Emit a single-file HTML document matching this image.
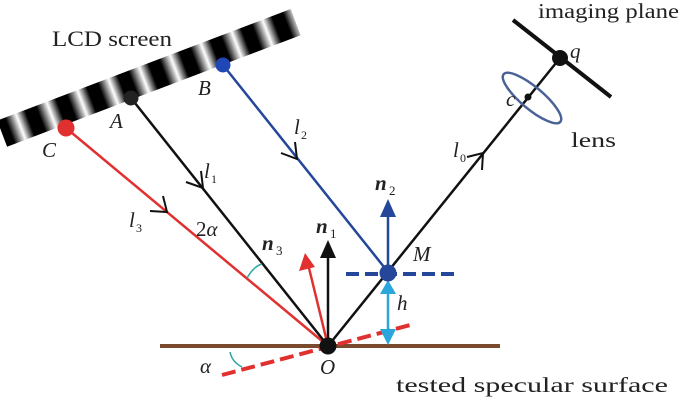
<!DOCTYPE html>
<html><head><meta charset="utf-8"><style>
body{margin:0;background:#fff;}
svg{display:block;}
text{font-family:"Liberation Serif",serif;fill:#222;}
.i{font-style:italic;}
</style></head><body>
<svg width="683" height="404" viewBox="0 0 683 404" xmlns="http://www.w3.org/2000/svg">
<defs>
<linearGradient id="g1" x1="0" y1="0" x2="1" y2="0">
<stop offset="0" stop-color="#000"/><stop offset="0.25" stop-color="#000"/><stop offset="0.6" stop-color="#fff"/><stop offset="0.9" stop-color="#000"/><stop offset="1" stop-color="#000"/>
</linearGradient>
<pattern id="st" patternUnits="userSpaceOnUse" x="0" y="-8" width="33" height="40">
<rect x="0" y="0" width="33" height="40" fill="url(#g1)"/>
</pattern>
</defs>
<g transform="translate(0,128) rotate(-20.8)">
<rect x="0" y="-8" width="314" height="28" fill="url(#st)"/>
</g>
<text x="52" y="46" font-size="22" textLength="120" lengthAdjust="spacingAndGlyphs">LCD screen</text>
<line x1="160" y1="346" x2="500" y2="346" stroke="#7a4a2e" stroke-width="4"/>
<line x1="222" y1="375" x2="414" y2="324" stroke="#e0302f" stroke-width="4" stroke-dasharray="14,6"/>
<line x1="66" y1="128" x2="328" y2="346" stroke="#e0302f" stroke-width="2.5"/>
<line x1="131" y1="98" x2="328" y2="346" stroke="#111" stroke-width="2.5"/>
<line x1="223" y1="65" x2="388" y2="272" stroke="#25479a" stroke-width="2.5"/>
<line x1="328" y1="346" x2="560" y2="58" stroke="#111" stroke-width="2.5"/>
<g fill="none" stroke-width="2" stroke="#111">
<polyline points="201,171 203,188 186,182"/>
<polyline points="163,196 167,212 150,211"/>
<polyline points="295,142 297,159 281,153"/>
<polyline points="467,157 483,153 482,170"/>
</g>
<line x1="513" y1="20" x2="611" y2="97" stroke="#111" stroke-width="4"/>
<ellipse cx="532" cy="98" rx="37" ry="11" transform="rotate(40 532 98)" fill="none" stroke="#4a6296" stroke-width="2.5"/>
<circle cx="528" cy="97" r="3.5" fill="#111"/>
<circle cx="560" cy="58" r="8" fill="#111"/>
<line x1="328" y1="346" x2="328" y2="255" stroke="#111" stroke-width="2.5"/>
<polygon points="328,240 320,258 336,258" fill="#111"/>
<line x1="328" y1="346" x2="309" y2="268" stroke="#e0302f" stroke-width="2.5"/>
<polygon points="305,253 299,271 315,267" fill="#e0302f"/>
<line x1="388" y1="272" x2="388" y2="214" stroke="#25479a" stroke-width="2.5"/>
<polygon points="388,199 380,217 396,217" fill="#25479a"/>
<line x1="346" y1="274" x2="454" y2="274" stroke="#25479a" stroke-width="4" stroke-dasharray="13,6"/>
<line x1="388" y1="290" x2="388" y2="330" stroke="#2aa6dc" stroke-width="2.5"/>
<polygon points="388,280 380,294 396,294" fill="#2aa6dc"/>
<polygon points="388,345 380,329 396,329" fill="#2aa6dc"/>
<circle cx="388" cy="273" r="8.5" fill="#25479a"/>
<circle cx="328" cy="346" r="8.5" fill="#111"/>
<circle cx="66" cy="128" r="8.5" fill="#e0302f"/>
<circle cx="131" cy="98" r="7.5" fill="#222"/>
<circle cx="223" cy="65" r="7.5" fill="#1f47b5"/>
<path d="M247,278 Q254,266 262,264" fill="none" stroke="#2aa6a6" stroke-width="1.5"/>
<path d="M230,352 Q232,362 242,367" fill="none" stroke="#2aa6a6" stroke-width="1.5"/>
<text x="538" y="18" font-size="21" textLength="141" lengthAdjust="spacingAndGlyphs">imaging plane</text>
<text x="570" y="58" font-size="21" class="i">q</text>
<text x="506" y="106" font-size="21" class="i">c</text>
<text x="571" y="147" font-size="21" textLength="45" lengthAdjust="spacingAndGlyphs">lens</text>
<text x="453" y="157" font-size="21" class="i">l</text><text x="460" y="162" font-size="12">0</text>
<text x="204" y="178" font-size="21" class="i">l</text><text x="211" y="183" font-size="12">1</text>
<text x="294" y="134" font-size="21" class="i">l</text><text x="301" y="139" font-size="12">2</text>
<text x="129" y="227" font-size="21" class="i">l</text><text x="136" y="232" font-size="12">3</text>
<text x="42" y="157" font-size="21" class="i">C</text>
<text x="110" y="128" font-size="21" class="i">A</text>
<text x="198" y="95" font-size="21" class="i">B</text>
<text x="196" y="236" font-size="21">2<tspan class="i">α</tspan></text>
<text x="262" y="250" font-size="21" font-weight="bold" class="i">n</text><text x="276" y="255" font-size="13">3</text>
<text x="316" y="233" font-size="21" font-weight="bold" class="i">n</text><text x="330" y="238" font-size="13">1</text>
<text x="375" y="190" font-size="21" font-weight="bold" class="i">n</text><text x="389" y="195" font-size="13">2</text>
<text x="413" y="261" font-size="21" class="i">M</text>
<text x="397" y="310" font-size="21" class="i">h</text>
<text x="200" y="373" font-size="21" class="i">α</text>
<text x="320" y="374" font-size="21" class="i">O</text>
<text x="396" y="392" font-size="21" textLength="272" lengthAdjust="spacingAndGlyphs">tested specular surface</text>
</svg>
</body></html>
